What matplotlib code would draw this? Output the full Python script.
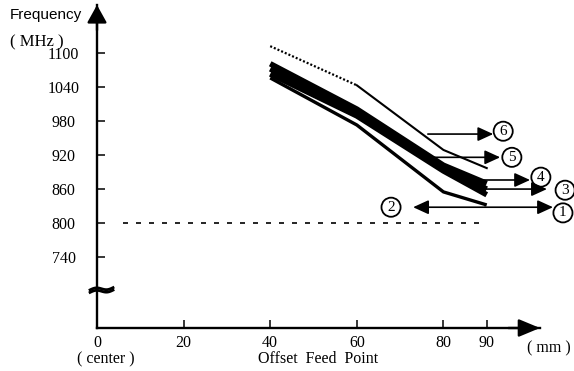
import matplotlib
matplotlib.use('Agg')
import matplotlib.pyplot as plt
import numpy as np

# ---- data ----
offset_mm = [40, 60, 80, 90]
f6 = [1112, 1043, 929, 897]          # first segment (40-60) dotted
f4 = [1081, 1001, 902, 870]
f5 = [1072, 995, 897, 860]
f3 = [1063, 989, 892, 850]
f12 = [1056, 973, 855, 832]          # curves 1 and 2 end on the same line
ref_freq = 800
ref_span = [6, 90]

yticks = [740, 800, 860, 920, 980, 1040, 1100]
xticks = [0, 20, 40, 60, 80, 90]

# label arrows: (label, tail x, head x, y, label x, label y)
arrows = [
    ('6', 76.4, 91.5, 957, 93.8, 962),
    ('5', 76.4, 93.1, 916, 95.8, 916),
    ('4', 85.5, 100.0, 876, 102.5, 881),
    ('3', 89.6, 103.9, 860, 108.1, 858),
    ('1', 89.6, 105.3, 828, 107.6, 818),
    ('2', 89.6, 73.0, 828, 67.9, 828),
]

SERIF = 'Liberation Serif'
SANS = 'Liberation Sans'

fig = plt.figure(figsize=(5.74, 3.71), dpi=100)
ax = fig.add_axes([97 / 574, 43 / 371, 443 / 574, 323 / 371])
ax.set_xlim(0, 102.3)
ax.set_ylim(615, 1184.6)

for s in ['top', 'right']:
    ax.spines[s].set_visible(False)
for s in ['left', 'bottom']:
    ax.spines[s].set_linewidth(1.7)

ax.set_yticks(yticks)
ax.set_xticks(xticks)
ax.tick_params(axis='y', direction='in', length=6, width=1.1, pad=24,
               labelsize=11.5)
ax.tick_params(axis='x', direction='in', length=6, width=1.1, pad=5,
               labelsize=11.5)
for lab in ax.get_yticklabels() + ax.get_xticklabels():
    lab.set_fontfamily(SERIF)
for lab in ax.get_yticklabels():
    lab.set_horizontalalignment('center')

# axis arrows
ax.annotate('', xy=(0, 1184.6), xytext=(0, 1140), annotation_clip=False,
            arrowprops=dict(arrowstyle='-|>,head_length=10.8,head_width=6',
                            mutation_scale=1, lw=1.7, color='black',
                            shrinkA=0, shrinkB=0))
ax.annotate('', xy=(102.3, 615), xytext=(95, 615), annotation_clip=False,
            arrowprops=dict(arrowstyle='-|>,head_length=13,head_width=5.4',
                            mutation_scale=1, lw=1.7, color='black',
                            shrinkA=0, shrinkB=0))

# axis break mark
t = np.linspace(0, 1, 30)
bx = -1.6 + 5.3 * t
for dy in (-2.2, 2.2):
    by = 682 + dy + 4 * (t - 0.5) + 2.5 * np.sin(2 * np.pi * t)
    ax.plot(bx, by, color='black', lw=2.0, clip_on=False, zorder=5)

# reference dashed line
ax.plot(ref_span, [ref_freq, ref_freq], color='black', lw=1.2,
        dashes=(3.0, 4.8))

# curve 6
ax.plot(offset_mm[:2], f6[:2], color='black', lw=1.6, dashes=(0.9, 0.9))
ax.plot(offset_mm[1:], f6[1:], color='black', lw=1.5)

# thick bundle (3, 4, 5)
for f in (f4, f5, f3):
    ax.plot(offset_mm, f, color='black', lw=4.0, solid_capstyle='butt')

# lower line (1, 2)
ax.plot(offset_mm, f12, color='black', lw=2.4, solid_capstyle='butt')

# arrows + circled labels
for lab, x0, x1, y, lx, ly in arrows:
    ax.annotate('', xy=(x1, y), xytext=(x0, y), annotation_clip=False,
                arrowprops=dict(arrowstyle='-|>,head_length=9.4,head_width=4.3',
                                mutation_scale=1, lw=1.2, color='black',
                                shrinkA=0, shrinkB=0))
    ax.text(lx, ly, lab, ha='center', va='center', fontsize=11,
            family=SERIF, clip_on=False,
            bbox=dict(boxstyle='circle,pad=0.2', fc='white', ec='black',
                      lw=1.3))

# texts
fig.text(10 / 574, 1 - 15 / 371, 'Frequency', ha='left', va='center',
         fontsize=11, family=SANS)
fig.text(10 / 574, 1 - 42 / 371, '( MHz )', ha='left', va='center',
         fontsize=12, family=SERIF)
ax.text(2.1, 559, '( center )', ha='center', va='center', fontsize=11.5,
        family=SERIF, clip_on=False)
ax.text(104.4, 579.5, '( mm )', ha='center', va='center', fontsize=11.5,
        family=SERIF, clip_on=False)
ax.set_xlabel('Offset  Feed  Point', fontsize=11.5, family=SERIF,
              labelpad=0)

fig.savefig('out.png', dpi=100)
